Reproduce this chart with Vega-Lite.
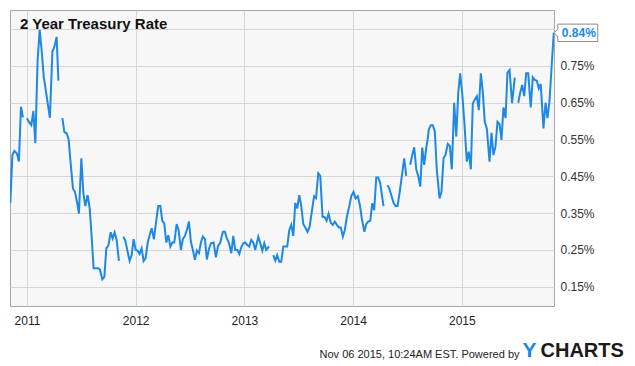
{
 "$schema": "https://vega.github.io/schema/vega-lite/v6.json",
 "width": 544,
 "height": 296,
 "autosize": {"type": "none"},
 "padding": {"left": 10, "top": 10, "right": 81, "bottom": 60},
 "background": "white",
 "title": {"text": "2 Year Treasury Rate", "anchor": "start", "frame": "group", "orient": "top", "offset": 0, "baseline": "alphabetic", "dx": 10, "dy": 34, "fontSize": 15, "fontWeight": "bold", "color": "#111111", "font": "Liberation Sans"},
 "data": {"values": [
  {"t": 2010.847, "v": 0.378}, {"t": 2010.866, "v": 0.508}, {"t": 2010.884, "v": 0.519}, {"t": 2010.908, "v": 0.512}, {"t": 2010.926, "v": 0.490}, {"t": 2010.945, "v": 0.639}, {"t": 2010.963, "v": 0.610}, {"t": 2010.981, "v": null},
  {"t": 2011.000, "v": 0.608}, {"t": 2011.018, "v": 0.598}, {"t": 2011.040, "v": 0.589}, {"t": 2011.059, "v": 0.628}, {"t": 2011.077, "v": 0.540}, {"t": 2011.098, "v": 0.766}, {"t": 2011.117, "v": 0.848}, {"t": 2011.135, "v": 0.793}, {"t": 2011.154, "v": 0.721}, {"t": 2011.175, "v": 0.680}, {"t": 2011.193, "v": 0.644}, {"t": 2011.211, "v": 0.609}, {"t": 2011.234, "v": 0.789}, {"t": 2011.252, "v": 0.802}, {"t": 2011.273, "v": 0.829}, {"t": 2011.289, "v": 0.710}, {"t": 2011.307, "v": null},
  {"t": 2011.326, "v": 0.608}, {"t": 2011.344, "v": 0.570}, {"t": 2011.365, "v": 0.567}, {"t": 2011.383, "v": 0.551}, {"t": 2011.402, "v": 0.485}, {"t": 2011.423, "v": 0.417}, {"t": 2011.441, "v": 0.408}, {"t": 2011.460, "v": 0.381}, {"t": 2011.478, "v": 0.349}, {"t": 2011.500, "v": 0.499}, {"t": 2011.519, "v": 0.404}, {"t": 2011.537, "v": 0.369}, {"t": 2011.558, "v": 0.399}, {"t": 2011.577, "v": 0.363}, {"t": 2011.595, "v": 0.286}, {"t": 2011.613, "v": 0.200}, {"t": 2011.634, "v": 0.200}, {"t": 2011.653, "v": 0.200}, {"t": 2011.671, "v": 0.197}, {"t": 2011.693, "v": 0.170}, {"t": 2011.712, "v": 0.177}, {"t": 2011.730, "v": 0.254}, {"t": 2011.749, "v": 0.262}, {"t": 2011.770, "v": 0.298}, {"t": 2011.788, "v": 0.281}, {"t": 2011.806, "v": 0.298}, {"t": 2011.825, "v": 0.277}, {"t": 2011.846, "v": 0.220}, {"t": 2011.866, "v": null},
  {"t": 2011.886, "v": 0.286}, {"t": 2011.905, "v": 0.275}, {"t": 2011.926, "v": 0.245}, {"t": 2011.944, "v": 0.220}, {"t": 2011.963, "v": 0.236}, {"t": 2011.981, "v": 0.279}, {"t": 2012.000, "v": 0.250}, {"t": 2012.018, "v": 0.248}, {"t": 2012.036, "v": 0.239}, {"t": 2012.055, "v": 0.254}, {"t": 2012.073, "v": 0.220}, {"t": 2012.091, "v": 0.227}, {"t": 2012.110, "v": 0.268}, {"t": 2012.128, "v": 0.290}, {"t": 2012.147, "v": 0.309}, {"t": 2012.168, "v": 0.279}, {"t": 2012.186, "v": 0.322}, {"t": 2012.208, "v": 0.369}, {"t": 2012.227, "v": 0.369}, {"t": 2012.245, "v": 0.329}, {"t": 2012.263, "v": 0.322}, {"t": 2012.282, "v": 0.270}, {"t": 2012.300, "v": 0.290}, {"t": 2012.319, "v": 0.259}, {"t": 2012.337, "v": 0.270}, {"t": 2012.355, "v": 0.270}, {"t": 2012.377, "v": 0.320}, {"t": 2012.395, "v": 0.304}, {"t": 2012.416, "v": 0.250}, {"t": 2012.434, "v": 0.279}, {"t": 2012.453, "v": 0.288}, {"t": 2012.471, "v": 0.304}, {"t": 2012.490, "v": 0.327}, {"t": 2012.508, "v": 0.272}, {"t": 2012.526, "v": 0.250}, {"t": 2012.545, "v": 0.223}, {"t": 2012.563, "v": 0.248}, {"t": 2012.582, "v": 0.241}, {"t": 2012.600, "v": 0.270}, {"t": 2012.618, "v": 0.286}, {"t": 2012.637, "v": 0.279}, {"t": 2012.655, "v": 0.224}, {"t": 2012.674, "v": 0.252}, {"t": 2012.692, "v": 0.268}, {"t": 2012.717, "v": 0.270}, {"t": 2012.738, "v": 0.230}, {"t": 2012.758, "v": 0.261}, {"t": 2012.778, "v": 0.270}, {"t": 2012.802, "v": 0.299}, {"t": 2012.821, "v": 0.299}, {"t": 2012.839, "v": 0.281}, {"t": 2012.857, "v": 0.270}, {"t": 2012.880, "v": 0.241}, {"t": 2012.898, "v": 0.288}, {"t": 2012.916, "v": 0.250}, {"t": 2012.935, "v": 0.250}, {"t": 2012.953, "v": 0.239}, {"t": 2012.971, "v": 0.257}, {"t": 2012.990, "v": 0.268}, {"t": 2013.008, "v": 0.270}, {"t": 2013.027, "v": 0.263}, {"t": 2013.045, "v": 0.259}, {"t": 2013.063, "v": 0.277}, {"t": 2013.082, "v": 0.270}, {"t": 2013.100, "v": 0.250}, {"t": 2013.128, "v": 0.286}, {"t": 2013.146, "v": 0.268}, {"t": 2013.165, "v": 0.248}, {"t": 2013.183, "v": 0.268}, {"t": 2013.201, "v": 0.250}, {"t": 2013.220, "v": 0.257}, {"t": 2013.229, "v": 0.259}, {"t": 2013.247, "v": null},
  {"t": 2013.266, "v": 0.236}, {"t": 2013.284, "v": 0.221}, {"t": 2013.302, "v": 0.236}, {"t": 2013.321, "v": 0.218}, {"t": 2013.339, "v": 0.218}, {"t": 2013.358, "v": 0.259}, {"t": 2013.376, "v": 0.259}, {"t": 2013.394, "v": 0.259}, {"t": 2013.413, "v": 0.304}, {"t": 2013.431, "v": 0.318}, {"t": 2013.450, "v": 0.288}, {"t": 2013.468, "v": 0.378}, {"t": 2013.486, "v": 0.363}, {"t": 2013.505, "v": 0.399}, {"t": 2013.523, "v": 0.369}, {"t": 2013.542, "v": 0.320}, {"t": 2013.560, "v": 0.311}, {"t": 2013.581, "v": 0.299}, {"t": 2013.600, "v": 0.313}, {"t": 2013.618, "v": 0.349}, {"t": 2013.641, "v": 0.396}, {"t": 2013.659, "v": 0.391}, {"t": 2013.680, "v": 0.458}, {"t": 2013.698, "v": 0.451}, {"t": 2013.719, "v": 0.340}, {"t": 2013.738, "v": 0.339}, {"t": 2013.756, "v": 0.329}, {"t": 2013.774, "v": 0.348}, {"t": 2013.795, "v": 0.324}, {"t": 2013.814, "v": 0.318}, {"t": 2013.832, "v": 0.327}, {"t": 2013.851, "v": 0.318}, {"t": 2013.869, "v": 0.311}, {"t": 2013.887, "v": 0.311}, {"t": 2013.906, "v": 0.286}, {"t": 2013.924, "v": 0.304}, {"t": 2013.943, "v": 0.340}, {"t": 2013.965, "v": 0.369}, {"t": 2013.983, "v": 0.396}, {"t": 2014.004, "v": 0.408}, {"t": 2014.023, "v": 0.390}, {"t": 2014.044, "v": 0.396}, {"t": 2014.062, "v": 0.372}, {"t": 2014.080, "v": 0.336}, {"t": 2014.103, "v": 0.299}, {"t": 2014.121, "v": 0.320}, {"t": 2014.139, "v": 0.327}, {"t": 2014.158, "v": 0.329}, {"t": 2014.176, "v": 0.377}, {"t": 2014.194, "v": 0.358}, {"t": 2014.213, "v": 0.447}, {"t": 2014.231, "v": 0.447}, {"t": 2014.250, "v": 0.431}, {"t": 2014.268, "v": 0.393}, {"t": 2014.280, "v": 0.369}, {"t": 2014.298, "v": null},
  {"t": 2014.317, "v": 0.426}, {"t": 2014.335, "v": 0.415}, {"t": 2014.354, "v": 0.396}, {"t": 2014.372, "v": 0.378}, {"t": 2014.390, "v": 0.369}, {"t": 2014.409, "v": 0.369}, {"t": 2014.427, "v": 0.404}, {"t": 2014.446, "v": 0.445}, {"t": 2014.470, "v": 0.499}, {"t": 2014.489, "v": 0.451}, {"t": 2014.507, "v": null},
  {"t": 2014.526, "v": 0.481}, {"t": 2014.544, "v": 0.508}, {"t": 2014.562, "v": 0.529}, {"t": 2014.581, "v": 0.469}, {"t": 2014.599, "v": 0.451}, {"t": 2014.618, "v": 0.422}, {"t": 2014.636, "v": 0.528}, {"t": 2014.654, "v": 0.481}, {"t": 2014.673, "v": 0.528}, {"t": 2014.685, "v": 0.549}, {"t": 2014.697, "v": 0.578}, {"t": 2014.715, "v": 0.589}, {"t": 2014.733, "v": 0.589}, {"t": 2014.752, "v": 0.571}, {"t": 2014.770, "v": 0.467}, {"t": 2014.795, "v": 0.390}, {"t": 2014.813, "v": 0.408}, {"t": 2014.832, "v": 0.499}, {"t": 2014.850, "v": 0.508}, {"t": 2014.871, "v": 0.538}, {"t": 2014.890, "v": 0.532}, {"t": 2014.908, "v": 0.469}, {"t": 2014.930, "v": 0.650}, {"t": 2014.949, "v": 0.558}, {"t": 2014.967, "v": 0.676}, {"t": 2014.985, "v": 0.730}, {"t": 2015.004, "v": 0.674}, {"t": 2015.022, "v": 0.603}, {"t": 2015.046, "v": 0.490}, {"t": 2015.064, "v": 0.517}, {"t": 2015.083, "v": 0.469}, {"t": 2015.101, "v": 0.648}, {"t": 2015.120, "v": 0.659}, {"t": 2015.138, "v": 0.668}, {"t": 2015.156, "v": 0.630}, {"t": 2015.175, "v": 0.730}, {"t": 2015.193, "v": 0.680}, {"t": 2015.211, "v": 0.598}, {"t": 2015.230, "v": 0.580}, {"t": 2015.255, "v": 0.490}, {"t": 2015.273, "v": 0.568}, {"t": 2015.291, "v": 0.508}, {"t": 2015.310, "v": 0.532}, {"t": 2015.328, "v": 0.598}, {"t": 2015.347, "v": 0.592}, {"t": 2015.365, "v": 0.549}, {"t": 2015.383, "v": 0.637}, {"t": 2015.402, "v": 0.608}, {"t": 2015.420, "v": 0.732}, {"t": 2015.439, "v": 0.739}, {"t": 2015.462, "v": 0.649}, {"t": 2015.475, "v": 0.684}, {"t": 2015.487, "v": 0.718}, {"t": 2015.503, "v": null},
  {"t": 2015.519, "v": 0.650}, {"t": 2015.537, "v": 0.677}, {"t": 2015.555, "v": 0.698}, {"t": 2015.574, "v": 0.668}, {"t": 2015.592, "v": 0.730}, {"t": 2015.611, "v": 0.730}, {"t": 2015.634, "v": 0.637}, {"t": 2015.653, "v": 0.719}, {"t": 2015.671, "v": 0.712}, {"t": 2015.690, "v": 0.710}, {"t": 2015.708, "v": 0.689}, {"t": 2015.726, "v": 0.701}, {"t": 2015.751, "v": 0.580}, {"t": 2015.770, "v": 0.650}, {"t": 2015.788, "v": 0.608}, {"t": 2015.806, "v": 0.653}, {"t": 2015.825, "v": 0.743}, {"t": 2015.846, "v": 0.840}
 ]},
 "layer": [
  {
   "mark": {"type": "line", "color": "#1e88e5", "strokeWidth": 2, "invalid": "break-paths-show-domains", "clip": true},
   "encoding": {
    "x": {"field": "t", "type": "quantitative",
     "scale": {"domain": [2010.844, 2015.848], "nice": false, "zero": false},
     "axis": {"values": [2011, 2012, 2013, 2014, 2015], "format": "d", "grid": true, "gridColor": "#d6d6d6", "ticks": false, "tickSize": 0, "domain": false, "labelPadding": 9, "labelFontSize": 12, "labelColor": "#222222", "labelFont": "Liberation Sans",
      "title": "Nov 06 2015, 10:24AM EST.  Powered by", "titleX": 509, "titleY": 51, "titleAlign": "right", "titleAnchor": null, "titleBaseline": "alphabetic", "titleFontSize": 11, "titleFontWeight": "normal", "titleColor": "#222222", "titleFont": "Liberation Sans"}},
    "y": {"field": "v", "type": "quantitative",
     "scale": {"domain": [0.0975, 0.902], "nice": false, "zero": false},
     "axis": {"orient": "right", "values": [0.15, 0.25, 0.35, 0.45, 0.55, 0.65, 0.75, 0.85], "labelExpr": "datum.value > 0.8 ? '' : format(datum.value, '.2f') + '%'", "grid": true, "gridColor": "#d6d6d6", "ticks": false, "tickSize": 0, "domain": false, "labelPadding": 6, "labelFontSize": 12, "labelColor": "#333333", "labelFont": "Liberation Sans", "labelAlign": "left", "labelBaseline": "middle",
      "title": "CHARTS", "titleAngle": 0, "titleX": -14, "titleY": 346.5, "titleAlign": "left", "titleAnchor": null, "titleBaseline": "alphabetic", "titleFontSize": 20, "titleFontWeight": "bold", "titleColor": "#1a1a1a", "titleFont": "Liberation Sans"}}
   }
  },
  {
   "transform": [{"filter": "datum.t > 2015.84"}],
   "mark": {"type": "point", "shape": "M0,0L0.4,-0.35L0.4,-0.87L4.4,-0.87L4.4,0.87L0.4,0.87L0.4,0.35Z", "size": 400, "filled": true, "fill": "white", "stroke": "#8c8c8c", "strokeWidth": 1, "opacity": 1, "clip": false},
   "encoding": {
    "x": {"field": "t", "type": "quantitative"},
    "y": {"field": "v", "type": "quantitative",
     "axis": {"orient": "left", "labels": false, "ticks": false, "domain": false, "grid": false,
      "title": "Y", "titleAngle": 0, "titleX": 512, "titleY": 346.5, "titleAlign": "left", "titleAnchor": null, "titleBaseline": "alphabetic", "titleFontSize": 21, "titleFontWeight": "bold", "titleColor": "#1e88e5", "titleFont": "Liberation Sans"}}
   }
  },
  {
   "transform": [{"filter": "datum.t > 2015.84"}, {"calculate": "format(datum.v, '.2f') + '%'", "as": "label"}],
   "mark": {"type": "text", "align": "left", "baseline": "middle", "dx": 8, "fontSize": 12, "fontWeight": "bold", "color": "#1e88e5", "font": "Liberation Sans", "clip": false},
   "encoding": {
    "x": {"field": "t", "type": "quantitative"},
    "y": {"field": "v", "type": "quantitative", "axis": null},
    "text": {"field": "label"}
   }
  }
 ],
 "resolve": {"axis": {"y": "independent"}},
 "config": {
  "view": {"stroke": "#a8a8a8", "fill": "#f7f7f7"},
  "font": "Liberation Sans"
 }
}
